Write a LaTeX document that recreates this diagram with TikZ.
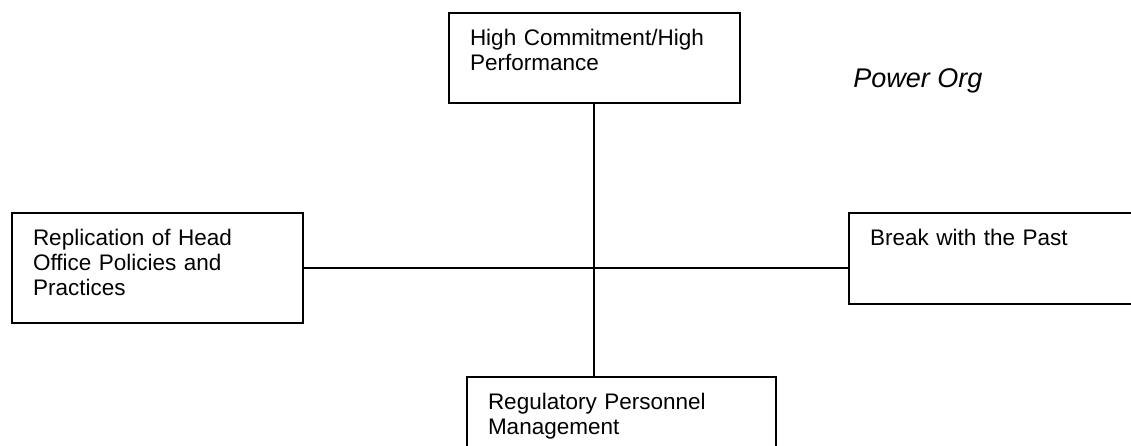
\documentclass[tikz,border=0pt]{standalone}
\usepackage{fontspec}
\setmainfont{Liberation Sans}
\begin{document}
\begin{tikzpicture}[x=0.5pt,y=-0.5pt,
  box/.style={draw, line width=0.7pt, anchor=north west, inner xsep=10.5pt, inner ysep=0pt, outer sep=0pt,
    align=left, text height=16pt, font=\fontsize{11.25}{12.5}\selectfont},
  link/.style={line width=0.6pt}]
\useasboundingbox (0,0) rectangle (1131,445);
\clip (0,0) rectangle (1131,445);
\node[box, text width=124.5pt, text depth=29pt] (hc) at (449,13) {High Commitment/High\\Performance};
\node[box, text width=124.5pt, text depth=39pt] (rep) at (12,213) {Replication of Head\\Office Policies and\\Practices};
\node[box, text width=129pt, text depth=29.5pt] (brk) at (849,213) {Break with the Past};
\node[box, text width=133.5pt, text depth=50pt] (reg) at (467,377) {Regulatory Personnel\\Management};
\node[anchor=base west, inner sep=0pt, font=\fontsize{13.5}{15}\itshape] (po) at (853,87) {Power Org};
\coordinate (c) at (594,268);
\draw[link] (hc.south -| c) -- (reg.north -| c);
\draw[link] (rep.east |- c) -- (brk.west |- c);
\end{tikzpicture}
\end{document}
